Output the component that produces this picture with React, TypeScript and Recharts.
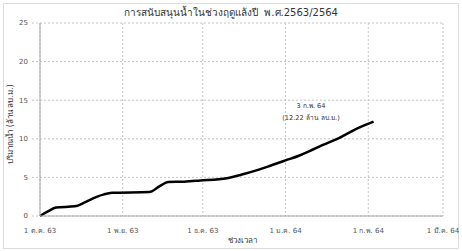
import { LineChart, Line, XAxis, YAxis, CartesianGrid } from 'recharts';

// days counted from 1 Oct 2020
const DAYS = [0, 3, 6, 13, 17, 21, 24, 27, 41, 45, 48, 54, 60, 70, 76, 82, 87, 92, 97, 101, 106, 112, 118, 125];
const VOLUME = [0, 0.6, 1.1, 1.25, 1.8, 2.45, 2.8, 3.0, 3.1, 3.9, 4.4, 4.45, 4.6, 4.9, 5.4, 6.0, 6.6, 7.2, 7.8, 8.4, 9.2, 10.1, 11.2, 12.22];

const X_TICKS = [0, 31, 61, 92, 123, 151];
const X_LABELS = ['1 ต.ค. 63', '1 พ.ย. 63', '1 ธ.ค. 63', '1 ม.ค. 64', '1 ก.พ. 64', '1 มี.ค. 64'];
const Y_TICKS = [0, 5, 10, 15, 20, 25];

const data = DAYS.map((d, i) => ({ day: d, vol: VOLUME[i] }));

const FONT = 'Tahoma, "DejaVu Sans", sans-serif';

export default function App() {
  return (
    <div style={{ position: 'absolute', left: 0, top: 0, width: 462, height: 251, background: '#fff', fontFamily: FONT }}>
      <div style={{ position: 'absolute', left: 3, top: 3, width: 454, height: 244, border: '1px solid #dcdcdc' }} />
      <div style={{ position: 'absolute', left: 0, width: 462, top: 5, textAlign: 'center', fontSize: 10, color: '#333', whiteSpace: 'pre' }}>
        {'การสนับสนุนน้ำในช่วงฤดูแล้งปี  พ.ศ.2563/2564'}
      </div>
      <LineChart width={462} height={251} data={data} margin={{ top: 23, right: 19, left: 0, bottom: 0 }} style={{ position: 'absolute', left: 0, top: 0 }}>
        <CartesianGrid stroke="#c4c4c4" strokeDasharray="2 2" />
        <XAxis
          dataKey="day"
          type="number"
          domain={[0, 151]}
          ticks={X_TICKS}
          tickFormatter={(v) => X_LABELS[X_TICKS.indexOf(v)]}
          tick={{ fontSize: 7, fill: '#555', fontFamily: FONT }}
          tickLine={false}
          axisLine={{ stroke: '#a8a8a8' }}
          tickMargin={6}
          height={35}
          interval={0}
        />
        <XAxis xAxisId="top" orientation="top" type="number" domain={[0, 151]} tick={false} tickLine={false} axisLine={{ stroke: '#a8a8a8' }} height={0} />
        <YAxis
          type="number"
          domain={[0, 25]}
          ticks={Y_TICKS}
          tick={{ fontSize: 7, fill: '#555', fontFamily: FONT }}
          tickLine={{ stroke: '#c4c4c4', strokeDasharray: '2 2' }}
          tickSize={8}
          tickMargin={4}
          axisLine={{ stroke: '#a8a8a8' }}
          width={40}
        />
        <YAxis yAxisId="right" orientation="right" domain={[0, 25]} tick={false} tickLine={false} axisLine={{ stroke: '#a8a8a8' }} width={0} />
        <Line dataKey="vol" type="monotone" stroke="#000" strokeWidth={2.5} dot={false} isAnimationActive={false} />
      </LineChart>
      <div style={{ position: 'absolute', left: 271, top: 100, width: 80, textAlign: 'center', fontSize: 6.6, color: '#333', lineHeight: '12px' }}>
        3 ก.พ. 64<br />(12.22 ล้าน ลบ.ม.)
      </div>
      <div style={{ position: 'absolute', left: 200, width: 84, top: 234, textAlign: 'center', fontSize: 8, color: '#333' }}>ช่วงเวลา</div>
      <div
        style={{
          position: 'absolute',
          left: 10,
          top: 124,
          transform: 'translate(-50%, -50%) rotate(-90deg)',
          whiteSpace: 'nowrap',
          fontSize: 8,
          color: '#333',
        }}
      >
        ปริมาณน้ำ (ล้าน ลบ.ม.)
      </div>
    </div>
  );
}
